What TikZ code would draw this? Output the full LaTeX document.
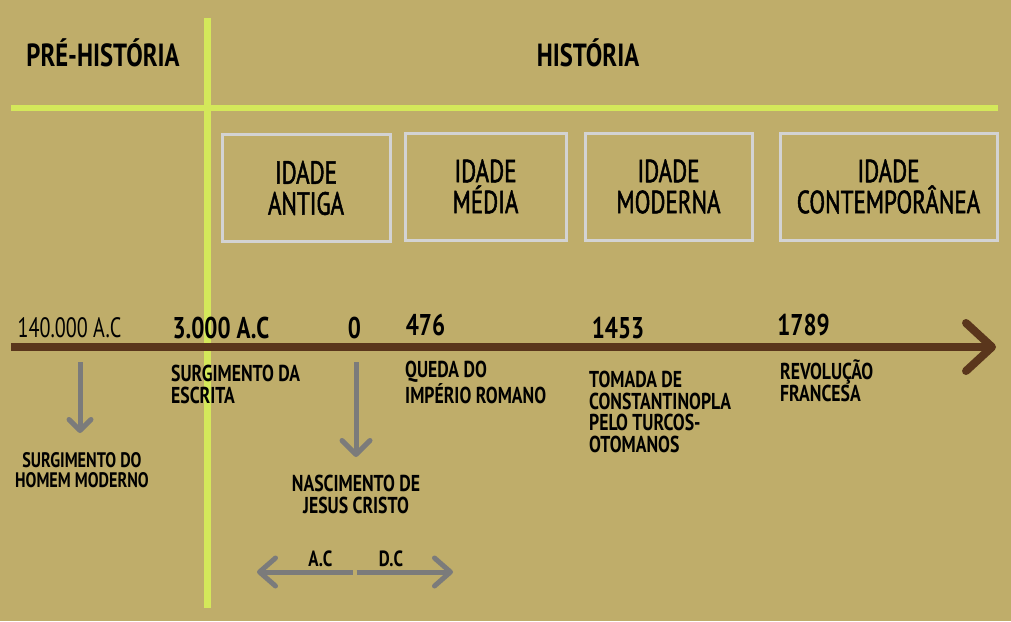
\documentclass[tikz,border=0pt]{standalone}
\usepackage{fontspec}
\setmainfont{PT Sans}[FakeStretch=0.72, BoldFeatures={FakeStretch=0.77}]
\newfontfamily\boxfont{PT Sans}[FakeStretch=0.72, FakeBold=1.5]
\usetikzlibrary{arrows.meta}
\definecolor{bgtan}{HTML}{BFAD6A}
\definecolor{limeline}{HTML}{D4E85A}
\definecolor{timebrown}{HTML}{5A361C}
\definecolor{arrowgray}{HTML}{7B7B7B}
\definecolor{boxgray}{HTML}{D3D3D3}

\begin{document}
\begin{tikzpicture}[x=1pt, y=-1pt,
    era/.style={draw=boxgray, line width=3pt, align=center, inner sep=0pt,
        minimum height=107pt, font=\boxfont\fontsize{32}{31}\selectfont},
    year/.style={anchor=base, inner sep=0pt, font=\bfseries\fontsize{30}{30}\selectfont},
    event/.style={anchor=base west, align=left, inner sep=0pt,
        font=\bfseries\fontsize{23}{21.5}\selectfont},
    note/.style={anchor=base, align=center, inner sep=0pt,
        font=\bfseries\fontsize{21}{19.5}\selectfont},
    grayarrow/.style={arrowgray, line width=5pt, -{Straight Barb[length=11pt, width=22pt, round]}},
    sidelabel/.style={above=3pt, inner sep=0pt, text=black, font=\bfseries\fontsize{22}{22}\selectfont}]

    % background and frame of the picture
    \fill[bgtan] (0,0) rectangle (1011,621);
    \useasboundingbox (0,0) rectangle (1011,621);

    % Define the two dividing lines
    \coordinate (V1) at (207,18);
    \coordinate (V2) at (207,608);
    \coordinate (H1) at (11,108);
    \coordinate (H2) at (998,108);
    \draw[limeline, line width=6pt] (H1) -- (H2);
    \draw[limeline, line width=7pt] (V1) -- (V2);

    % Define the two periods (top)
    \node[anchor=base, inner sep=0pt, font=\bfseries\fontsize{32}{32}\selectfont] (P1) at (103,66) {PRÉ-HISTÓRIA};
    \node[anchor=base, inner sep=0pt, font=\bfseries\fontsize{32}{32}\selectfont] (P2) at (588,66) {HISTÓRIA};

    % Define the four ages (boxes)
    \node[era, minimum width=168pt] (E1) at (306,188) {IDADE\\ANTIGA};
    \node[era, minimum width=161pt] (E2) at (485.5,186.5) {IDADE\\MÉDIA};
    \node[era, minimum width=167pt] (E3) at (668.5,186.5) {IDADE\\MODERNA};
    \node[era, minimum width=217pt] (E4) at (888.5,186.5) {IDADE\\CONTEMPORÂNEA};

    % Define the timeline
    \coordinate (T0) at (11,347);
    \coordinate (T9) at (996,347);
    \draw[timebrown, line width=8pt, -{Straight Barb[length=26pt, width=48pt, round]}] (T0) -- (T9);

    % Define the years above the timeline
    \node[year, font=\fontsize{28}{28}\selectfont] (Y1) at (69.5,337) {140.000 A.C};
    \node[year] (Y2) at (221,338) {3.000 A.C};
    \node[year] (Y3) at (354.5,338) {0};
    \node[year] (Y4) at (425.5,335) {476};
    \node[year] (Y5) at (618,338) {1453};
    \node[year] (Y6) at (803.5,335) {1789};

    % Define the events below the timeline
    \node[event] (D2) at (171,403) {SURGIMENTO DA\\ESCRITA};
    \node[event] (D4) at (405,403) {QUEDA DO\\IMPÉRIO ROMANO};
    \node[event] (D5) at (589,452) {TOMADA DE\\CONSTANTINOPLA\\PELO TURCOS-\\OTOMANOS};
    \node[event] (D6) at (780,401) {REVOLUÇÃO\\FRANCESA};

    % Define the events pointed by the gray arrows
    \node[note] (D1) at (82,487) {SURGIMENTO DO\\HOMEM MODERNO};
    \node[note, font=\bfseries\fontsize{23}{22}\selectfont] (D3) at (356,513) {NASCIMENTO DE\\JESUS CRISTO};

    % Draw the gray arrows
    \coordinate (G1) at (80,362);
    \coordinate (G2) at (356,362);
    \draw[grayarrow] (G1) -- (80,433);
    \draw[grayarrow, -{Straight Barb[length=14pt, width=28pt, round]}] (G2) -- (356,457);

    % Draw the A.C / D.C arrows
    \coordinate (Z0) at (354.5,572);
    \coordinate (ZL) at (257,572);
    \coordinate (ZR) at (453,572);
    \draw[grayarrow, -{Straight Barb[length=16pt, width=28pt, round]}, shorten <=2pt] (Z0) -- (ZL)
        node[pos=0.35, sidelabel] {A.C};
    \draw[grayarrow, -{Straight Barb[length=16pt, width=28pt, round]}, shorten <=2pt] (Z0) -- (ZR)
        node[pos=0.37, sidelabel] {D.C};

\end{tikzpicture}
\end{document}
